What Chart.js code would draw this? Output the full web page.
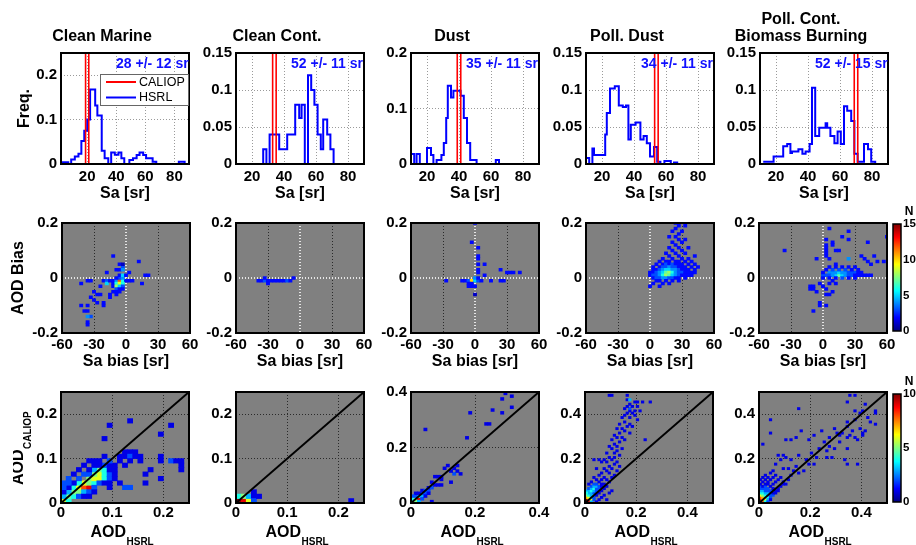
<!DOCTYPE html>
<html><head><meta charset="utf-8">
<script src="https://cdn.jsdelivr.net/npm/chart.js@4.4.1/dist/chart.umd.min.js"></script>
<style>
html,body{margin:0;padding:0;background:#fff;overflow:hidden;width:916px;height:545px;}
#root{position:relative;width:916px;height:545px;overflow:hidden;}
canvas{position:absolute;}
</style></head><body><div id="root"></div>
<script>
// ---------------- DATA ----------------
const panelTitles = [['Clean Marine'], ['Clean Cont.'], ['Dust'], ['Poll. Dust'], ['Poll. Cont.', 'Biomass Burning']];
const hsrlSaLabels = ['28 +/- 12 sr', '52 +/- 11 sr', '35 +/- 11 sr', '34 +/- 11 sr', '52 +/- 15 sr'];
const caliopSa = [20, 34, 40, 54, 70];
const saRanges = [[2, 90], [10, 90], [10, 90], [10, 90], [10, 90]];
const saTicks = [20, 40, 60, 80];
const freqMax = [0.25, 0.15, 0.2, 0.15, 0.15];
const freqTicks = [[0, 0.1, 0.2], [0, 0.05, 0.1, 0.15], [0, 0.1, 0.2], [0, 0.05, 0.1, 0.15], [0, 0.05, 0.1, 0.15]];

// HSRL lidar-ratio histograms: bin left edges (sr) and frequency
const histMarineSa = [2, 7, 9, 11.5, 14, 16, 18, 20, 22, 25.5, 27, 30, 32, 34.5, 36.5, 39, 41.5, 43.5, 45.5, 49, 51.5, 54, 56, 58.5, 60.5, 65, 67.5, 83, 87, 90];
const histMarineFreq = [0.004, 0, 0.01, 0.017, 0.023, 0.052, 0.075, 0.1, 0.168, 0.132, 0.109, 0.03, 0.013, 0, 0.026, 0.021, 0.026, 0.013, 0, 0.009, 0.013, 0.02, 0.026, 0.02, 0.013, 0.005, 0, 0.005, 0, 0];
const histCleanContSa = [25, 27, 29, 31, 37, 42, 47, 49.5, 51, 53, 55, 57, 59, 61, 63, 64.5, 67, 69, 71];
const histCleanContFreq = [0, 0.02, 0, 0.04, 0.02, 0.04, 0.08, 0.062, 0.08, 0, 0.12, 0.1, 0.08, 0.04, 0.02, 0.06, 0.04, 0.02, 0];
const histDustSa = [10, 12, 13.5, 15.5, 20, 22.5, 24, 26, 29, 30.5, 32, 33, 35, 36.5, 41, 43, 45, 47, 51, 63, 65];
const histDustFreq = [0.018, 0, 0.018, 0, 0.029, 0.016, 0, 0.007, 0.016, 0.038, 0.083, 0.141, 0.12, 0.132, 0.123, 0.083, 0.038, 0.007, 0, 0.007, 0];
const histPollDustSa = [10, 12, 14, 15, 22, 23, 25, 28, 30.5, 33, 35, 36.5, 38, 41, 44, 46, 48, 50, 52.5, 54.5, 56.5, 59, 61, 63, 65, 67];
const histPollDustFreq = [0.008, 0, 0.021, 0.012, 0.04, 0.069, 0.102, 0.105, 0.079, 0.077, 0.079, 0.033, 0.053, 0.056, 0.033, 0.038, 0.028, 0.01, 0.023, 0.003, 0, 0.004, 0.004, 0, 0.002, 0];
const histPollContSa = [12, 18.5, 24.5, 27, 29, 30, 34, 36.5, 38.5, 41, 42.5, 44.5, 47, 51, 52, 54, 56.5, 58.5, 60.5, 62.5, 64.5, 67, 69, 71, 75, 77.5, 79.5, 82];
const histPollContFreq = [0.003, 0.01, 0.024, 0.027, 0.015, 0.017, 0.02, 0.014, 0.017, 0.027, 0.103, 0.038, 0.049, 0.055, 0.049, 0.038, 0.028, 0.044, 0.027, 0.078, 0.072, 0.058, 0.014, 0.003, 0.027, 0.02, 0.003, 0];

// Bias 2-D histograms: [Sa bias bin centre (sr), AOD bias bin centre, count]
const saBiasTicks = [-60, -30, 0, 30, 60];
const aodBiasTicks = [-0.2, 0, 0.2];
const biasCountTicks = [0, 5, 10, 15];
const biasMarine = [[-12,0.08,2],[-6,0.05,2],[-9,0.03,2],[-6,0.03,2],[-18,0.02,2],[-3,0.04,3],[-3,0.03,4],[-3,0.05,1],[3,0.02,2],[12,0.06,2],[18,0.01,2],[21,0.01,2],
 [-36,-0.01,2],[-33,-0.01,2],[-42,-0.02,2],[-21,-0.01,2],[-18,-0.01,3],[-18,-0.02,5],[-15,-0.01,2],[-12,-0.01,2],[-9,-0.01,4],[-6,-0.01,12],[-3,-0.01,6],[0,-0.01,2],[-6,0,3],[-3,0,4],[-9,0,2],[-6,0.01,2],[-3,0.01,5],[0,0.01,2],[3,-0.01,2],[6,-0.01,2],
 [-12,-0.02,2],[-9,-0.02,6],[-6,-0.02,9],[-3,-0.02,6],[-12,-0.03,2],[-9,-0.03,8],[-6,-0.03,5],[-3,-0.03,3],[-9,-0.04,3],[-6,-0.04,2],[-3,-0.04,2],[-12,-0.05,2],[-9,-0.05,2],[-6,-0.05,2],[-15,-0.06,2],[-9,-0.06,2],[15,-0.02,2],
 [-24,-0.03,2],[-30,-0.05,2],[-24,-0.06,2],[-27,-0.06,2],[-15,-0.07,2],[-21,-0.09,2],[-21,-0.1,2],[-33,-0.07,2],[-42,-0.1,2],[-36,-0.1,2],[-36,-0.12,2],[-39,-0.12,2],[-33,-0.14,3],[-36,-0.14,4],[-36,-0.16,2],[-36,-0.17,2],[-30,-0.08,2],[-27,-0.09,2]];
const biasCleanCont = [[-39,-0.01,2],[-36,-0.01,2],[-33,-0.01,3],[-30,-0.01,2],[-27,-0.01,2],[-24,-0.01,2],[-21,-0.01,2],[-18,-0.01,2],[-15,-0.01,2],[-12,-0.01,3],[-9,-0.01,2],[-6,0,2],[-33,0,2],[-30,-0.02,2]];
const biasDust = [[-3,0.13,2],[3,0.11,2],[3,0.08,2],[3,0.07,2],[3,0.05,2],[3,0.03,2],[3,0.02,2],[9,0.05,2],[9,0.01,2],[0,0.2,2],[24,0.03,2],[30,0.02,2],[33,0.02,2],[36,0.02,2],[42,0.02,2],[-27,-0.01,2],[-12,-0.01,2],[-9,-0.01,2],[-6,-0.01,3],[-3,-0.01,10],[0,-0.01,5],[0,0,4],[3,-0.01,3],[6,-0.01,2],[15,-0.01,2],[24,-0.01,2],[27,-0.01,2],[-6,-0.02,2],[-3,-0.02,2],[-6,-0.03,2],[-3,-0.03,2],[0,-0.03,2],[0,-0.06,1],[3,0,2]];
const biasPollDust = [
 [9,0.06,2],[15,0.06,2],[18,0.06,2],[24,0.06,2],[27,0.06,2],[33,0.06,2],[39,0.06,2],
 [6,0.05,2],[12,0.05,2],[15,0.05,3],[18,0.05,2],[21,0.05,3],[24,0.05,2],[27,0.05,2],[30,0.05,2],[36,0.05,2],[42,0.05,2],
 [3,0.04,2],[9,0.04,2],[12,0.04,3],[15,0.04,3],[18,0.04,4],[21,0.04,3],[24,0.04,3],[27,0.04,2],[30,0.04,2],[33,0.04,2],[39,0.04,2],[45,0.04,2],
 [3,0.03,2],[6,0.03,2],[9,0.03,3],[12,0.03,4],[15,0.03,5],[18,0.03,5],[21,0.03,4],[24,0.03,4],[27,0.03,3],[30,0.03,2],[33,0.03,2],[36,0.03,2],[42,0.03,2],
 [0,0.02,2],[3,0.02,2],[6,0.02,3],[9,0.02,4],[12,0.02,5],[15,0.02,7],[18,0.02,8],[21,0.02,6],[24,0.02,4],[27,0.02,3],[30,0.02,3],[33,0.02,2],[36,0.02,2],[39,0.02,2],[42,0.02,2],
 [0,0.01,2],[3,0.01,3],[6,0.01,3],[9,0.01,4],[12,0.01,6],[15,0.01,8],[18,0.01,7],[21,0.01,5],[24,0.01,4],[27,0.01,3],[30,0.01,2],[33,0.01,2],[36,0.01,2],[39,0.01,2],
 [3,0,2],[6,0,3],[9,0,3],[12,0,4],[15,0,4],[18,0,3],[21,0,3],[24,0,2],[27,0,2],[33,0,2],
 [6,-0.01,2],[9,-0.01,2],[15,-0.01,2],[21,-0.01,2],[27,-0.01,2],[3,-0.02,2],[12,-0.02,2],[18,-0.02,2],[0,-0.03,2],[9,-0.03,2],
 [12,0.07,2],[21,0.07,2],[30,0.07,2],[36,0.07,2],[18,0.08,2],[27,0.08,2],[42,0.08,2],[15,0.09,2],[24,0.09,2],[33,0.09,2],[21,0.1,2],[30,0.1,2],[18,0.11,2],[27,0.11,2],[36,0.11,2],[24,0.12,2],[21,0.13,2],[30,0.13,2],[27,0.14,2],[33,0.14,2],[18,0.15,2],[24,0.15,2],[27,0.16,2],[21,0.17,2],[30,0.17,2],[24,0.18,2],[27,0.19,2],[33,0.19,2],[24,0.2,2]];
const biasPollCont = [[-36,0.1,2],[6,0.18,2],[24,0.17,2],[18,0.15,2],[24,0.14,2],[42,0.13,2],[9,0.13,2],[9,0.12,2],[3,0.14,2],[3,0.12,2],[3,0.11,2],[3,0.1,2],[3,0.09,2],[3,0.08,2],[12,0.1,2],[15,0.1,2],[-6,0.07,2],[6,0.07,2],[12,0.05,2],[24,0.07,4],[36,0.08,2],[39,0.07,2],[42,0.06,2],[45,0.05,2],[48,0.08,2],[51,0.06,2],[57,0.06,2],[60,0.15,2],
 [0,0.01,3],[3,0.01,3],[6,0.02,4],[9,0.02,4],[12,0.01,5],[15,0.01,7],[18,0.01,5],[21,0.02,4],[24,0.02,3],[27,0.02,3],[30,0.02,3],[33,0.02,2],[36,0.02,2],[39,0.01,2],[42,0.01,2],[6,0.01,3],[9,0.01,4],[12,0.02,4],[15,0.02,5],[18,0.02,4],[21,0.01,4],[24,0.01,3],[27,0.01,3],[30,0.01,2],[33,0.01,2],[36,0.01,2],[0,0.02,2],[3,0.03,2],[9,0.03,3],[15,0.03,3],[21,0.03,3],[27,0.03,2],[33,0.03,2],[12,0.04,2],[18,0.04,2],[24,0.04,2],[30,0.04,2],[6,0.04,2],[0,0,2],[6,0,2],[12,0,2],[18,0,3],[24,0,2],[30,0,2],[45,0.01,2],
 [-12,-0.03,2],[-9,-0.03,2],[-12,-0.04,2],[-9,-0.04,2],[-6,-0.05,2],[3,-0.04,2],[6,-0.02,2],[-3,-0.09,2],[-3,-0.1,2],[-9,-0.12,2],[3,-0.1,2],[9,-0.05,2],[0,-0.03,2],[6,-0.06,2],[-3,-0.02,2],[12,-0.02,2],[9,-0.01,2],[3,-0.06,2]];

// AOD scatter 2-D histograms: [AOD_HSRL bin lower edge, AOD_CALIOP bin lower edge, count]
const aodMax = [0.25, 0.25, 0.4, 0.5, 0.5];
const aodTicks = [[0, 0.1, 0.2], [0, 0.1, 0.2], [0, 0.2, 0.4], [0, 0.2, 0.4], [0, 0.2, 0.4]];
const aodCountTicks = [0, 5, 10];
const aodMarine = [[0,0,6],[0.01,0,4],[0.01,0.01,5],[0,0.01,3],[0.02,0.01,4],[0.02,0.02,5],[0.01,0.02,3],[0.03,0.02,5],[0.02,0.03,4],[0.03,0.03,6],[0.04,0.03,8],[0.05,0.03,9],[0.04,0.04,6],[0.03,0.04,4],[0.04,0.02,3],[0.05,0.02,2],[0.05,0.04,5],[0.06,0.04,4],[0.05,0.05,5],[0.06,0.05,6],[0.07,0.05,6],[0.07,0.06,6],[0.06,0.06,5],[0.08,0.06,4],[0.07,0.07,5],[0.08,0.07,4],[0.08,0.05,4],[0.06,0.07,3],[0.05,0.06,2],[0.04,0.06,2],[0.03,0.05,2],[0.02,0.04,1],[0.01,0.03,1],[0.02,0.06,1],[0.01,0.05,2],[0.01,0.04,2],[0,0.02,1],[0.03,0.01,2],[0.04,0.01,1],[0.06,0.03,2],[0.07,0.04,2],[0.08,0.04,1],[0.09,0.05,2],[0.09,0.06,2],[0.09,0.07,1],[0.08,0.08,2],[0.07,0.08,1],[0.06,0.08,1],[0.05,0.07,1],[0.09,0.03,1],[0.09,0.04,1],[0.1,0.06,1],[0.1,0.05,1],[0.1,0.07,1],[0.09,0.08,1],[0.1,0.08,1],[0.03,0.07,1],[0.04,0.08,1],[0.05,0.09,1],[0.06,0.09,1],[0.07,0.09,1],[0.08,0.1,1],[0.09,0.09,2],[0.11,0.1,1],[0.12,0.1,1],[0.12,0.11,1],[0.13,0.11,1],[0.14,0.11,1],[0.11,0.09,1],[0.13,0.1,2],[0.14,0.1,1],[0.15,0.1,1],[0.15,0.09,1],[0.13,0.09,1],[0.12,0.08,1],[0.16,0.06,1],[0.16,0.04,1],[0.12,0.03,2],[0.13,0.03,2],[0.17,0.07,1],[0.19,0.1,1],[0.19,0.09,1],[0.19,0.05,1],[0.19,0.15,1],[0.21,0.17,1],[0.08,0.14,1],[0.09,0.17,1],[0.13,0.18,1],[0.21,0.09,2],[0.22,0.09,1],[0.23,0.09,1],[0.23,0.08,1],[0.23,0.07,1],[0.11,0.04,1],[0.05,0.01,1],[0.06,0.02,1],[0,0.04,2],[0,0.03,2]];
const aodCleanCont = [[0,0,10],[0.01,0,9],[0.02,0,6],[0,0.01,4],[0.01,0.01,5],[0.02,0.01,3],[0.03,0.01,1],[0.03,0,2],[0.22,0,1],[0.04,0.01,1],[0.03,0.02,1]];
const aodDust = [[0,0,4],[0.01,0,5],[0,0.01,4],[0.01,0.01,5],[0.02,0.01,9],[0.02,0.02,4],[0.03,0.02,3],[0.01,0.02,2],[0.03,0.03,2],[0.04,0.03,2],[0.03,0.04,1],[0.04,0.04,2],[0.05,0.04,2],[0.02,0,3],[0.03,0.01,2],[0.04,0.02,1],[0.05,0.05,1],[0.06,0.05,2],[0.07,0.06,1],[0.08,0.06,1],[0.09,0.06,1],[0.06,0.07,1],[0.07,0.09,1],[0.09,0.09,1],[0.06,0,1],[0.05,0.03,1],[0.12,0.07,1],[0.13,0.1,2],[0.15,0.1,1],[0.14,0.13,1],[0.13,0.12,1],[0.1,0.12,1],[0.11,0.13,1],[0.12,0.11,1],[0.17,0.23,1],[0.04,0.26,1],[0.18,0.32,1],[0.23,0.28,1],[0.24,0.28,1],[0.25,0.33,1],[0.28,0.32,1],[0.28,0.37,1],[0.29,0.39,1],[0.31,0.38,1],[0.31,0.34,1],[0.08,0.09,1],[0.09,0.08,1],[0.14,0.11,1],[0.02,0.03,1],[0.01,0.03,1],[0,0.02,2]];
const aodPollDust = [[0,0,10],[0.01,0,9],[0,0.01,10],[0.01,0.01,8],[0.02,0.01,6],[0,0.02,7],[0.01,0.02,6],[0.02,0.02,4],[0,0.03,5],[0.01,0.03,4],[0.02,0.03,3],[0.03,0.03,4],[0.01,0.04,3],[0.02,0.04,3],[0.03,0.04,2],[0,0.05,3],[0.01,0.05,3],[0.02,0.05,4],[0.03,0.05,3],[0.04,0.05,2],[0.01,0.06,2],[0.02,0.06,3],[0.03,0.06,4],[0.04,0.06,2],[0.05,0.06,2],[0.02,0.07,2],[0.03,0.07,3],[0.04,0.07,3],[0.05,0.07,2],[0.03,0.08,2],[0.04,0.08,2],[0.06,0.08,1],[0,0.04,4],[0.04,0.04,2],[0.05,0.04,1],[0.03,0.02,2],[0.04,0.03,1],[0.02,0,3],[0.03,0.01,2],[0.05,0.01,1],[0.06,0.02,1],[0.07,0.03,1],[0.09,0.04,1],[0.1,0.05,1],[0.08,0.01,1],[0.04,0,1],[0.07,0.08,1],[0.01,0.08,1],[0.06,0.07,1],[0.08,0.07,1],[0.07,0.06,1],[0.06,0.05,1],[0.02,0.09,1],[0.05,0.09,1],[0.09,0.09,1],[0.04,0.1,1],[0.06,0.1,1],[0.08,0.1,1],[0.03,0.11,1],[0.07,0.11,1],[0.1,0.11,1],[0.05,0.12,1],[0.11,0.12,1],[0.06,0.13,1],[0.09,0.13,1],[0.08,0.14,1],[0.12,0.14,1],[0.04,0.15,1],[0.07,0.15,1],[0.1,0.15,1],[0.09,0.16,1],[0.13,0.16,1],[0.11,0.17,1],[0.06,0.18,1],[0.08,0.18,1],[0.12,0.18,1],[0.03,0.19,1],[0.05,0.19,1],[0.07,0.19,1],[0.1,0.19,1],[0.09,0.2,1],[0.11,0.2,1],[0.13,0.21,1],[0.08,0.22,1],[0.11,0.22,1],[0.12,0.23,1],[0.1,0.24,1],[0.14,0.24,1],[0.09,0.25,1],[0.12,0.25,1],[0.11,0.26,1],[0.13,0.27,1],[0.1,0.28,1],[0.15,0.28,1],[0.23,0.28,1],[0.12,0.29,1],[0.14,0.29,1],[0.11,0.3,1],[0.13,0.31,1],[0.17,0.31,1],[0.15,0.32,1],[0.12,0.33,1],[0.14,0.33,1],[0.16,0.34,1],[0.18,0.34,1],[0.13,0.35,1],[0.17,0.35,1],[0.15,0.36,1],[0.2,0.37,1],[0.14,0.38,1],[0.17,0.38,1],[0.15,0.39,1],[0.19,0.39,1],[0.16,0.4,1],[0.18,0.4,1],[0.17,0.41,1],[0.19,0.41,1],[0.21,0.41,1],[0.15,0.42,1],[0.17,0.42,2],[0.16,0.43,1],[0.18,0.43,1],[0.2,0.43,1],[0.17,0.44,1],[0.16,0.46,1],[0.17,0.46,3],[0.19,0.45,1],[0.2,0.45,1],[0.22,0.45,1],[0.25,0.45,1],[0.16,0.48,1],[0.09,0.48,1],[0.1,0.48,1]];
const aodPollCont = [[0,0,10],[0.01,0,8],[0,0.01,9],[0.01,0.01,7],[0.02,0.01,6],[0,0.02,8],[0.01,0.02,7],[0.02,0.02,5],[0.03,0.02,4],[0,0.03,6],[0.01,0.03,5],[0.02,0.03,4],[0.03,0.03,3],[0,0.04,4],[0.01,0.04,4],[0.02,0.04,3],[0.03,0.04,3],[0.04,0.04,2],[0,0.05,3],[0.01,0.05,3],[0.02,0.05,2],[0.03,0.05,2],[0.04,0.05,2],[0,0.06,2],[0.01,0.06,2],[0.02,0.06,2],[0.03,0.06,2],[0.05,0.06,1],[0,0.07,2],[0.01,0.07,1],[0.02,0.07,2],[0.04,0.07,1],[0,0.08,1],[0.02,0.08,1],[0.03,0.08,1],[0.05,0.08,1],[0.01,0.09,1],[0.03,0.09,1],[0.06,0.09,1],[0,0.1,1],[0.02,0.1,1],[0.04,0.1,1],[0.07,0.1,1],[0.01,0.11,1],[0.03,0.11,1],[0.05,0.11,1],[0.02,0.12,1],[0.04,0.13,1],[0.06,0.12,1],[0.08,0.11,1],[0.02,0,4],[0.03,0.01,3],[0.04,0.02,2],[0.05,0.03,2],[0.04,0.03,2],[0.05,0.04,1],[0.06,0.05,1],[0.07,0.06,1],[0.08,0.07,1],[0.09,0.08,1],[0.06,0.04,1],[0.07,0.05,1],[0.03,0,2],[0.04,0.01,1],[0.09,0.09,1],[0.1,0.08,1],[0.11,0.1,1],
 [0.08,0.19,1],[0.07,0.21,1],[0.09,0.21,1],[0.12,0.19,1],[0.15,0.21,1],[0.15,0.13,1],[0.18,0.19,1],[0.19,0.17,1],[0.21,0.17,1],[0.22,0.2,1],[0.26,0.2,1],[0.28,0.2,1],[0.26,0.23,1],[0.27,0.25,1],[0.29,0.24,1],[0.33,0.19,1],[0.34,0.17,1],[0.38,0.17,1],[0.34,0.24,1],[0.12,0.28,1],[0.14,0.29,1],[0.16,0.32,1],[0.19,0.28,1],[0.21,0.3,1],[0.24,0.32,1],[0.3,0.31,1],[0.31,0.3,1],[0.32,0.31,1],[0.34,0.29,1],[0.35,0.3,1],[0.37,0.29,1],[0.38,0.28,1],[0.4,0.3,1],[0.4,0.31,1],[0.41,0.32,1],[0.45,0.35,1],[0.34,0.36,1],[0.34,0.34,1],[0.37,0.37,1],[0.37,0.41,1],[0.39,0.4,1],[0.4,0.41,1],[0.45,0.4,1],[0.45,0.41,1],[0.41,0.44,1],[0.34,0.45,1],[0.35,0.48,1],[0.37,0.48,1],[0.15,0.42,1],[0.04,0.37,1],[0.04,0.31,1],[0.01,0.26,1],[0.1,0.28,1],[0.1,0.2,1],[0.11,0.15,1],[0.13,0.14,1],[0.09,0.15,1],[0.06,0.17,1],[0.05,0.14,1],[0.12,0.12,1],[0.14,0.16,1],[0.17,0.14,1],[0.2,0.22,1],[0.23,0.24,1],[0.25,0.27,1],[0.27,0.29,1],[0.29,0.33,1],[0.31,0.27,1],[0.36,0.32,1],[0.39,0.33,1],[0.42,0.38,1],[0.43,0.36,1]];

// ---------------- RENDERING ----------------
const FONTF = "'Liberation Sans', Arial, Helvetica, sans-serif";
Chart.defaults.font.family = FONTF;
Chart.defaults.font.weight = 'bold';
Chart.defaults.color = '#000';
const root = document.getElementById('root');

const histSa = [histMarineSa, histCleanContSa, histDustSa, histPollDustSa, histPollContSa];
const histFreq = [histMarineFreq, histCleanContFreq, histDustFreq, histPollDustFreq, histPollContFreq];
const biasSets = [biasMarine, biasCleanCont, biasDust, biasPollDust, biasPollCont];
const aodSets = [aodMarine, aodCleanCont, aodDust, aodPollDust, aodPollCont];

const colX = [[61, 236, 411, 586, 760], [62, 236, 411, 586, 759], [61, 236, 411, 585, 759]];
const rowY = [53, 223, 392];
const PW = 128, PH = [111, 110, 111];

function jet(t) {
  t = Math.max(0, Math.min(1, t));
  const f = v => Math.round(255 * Math.max(0, Math.min(1, v)));
  return `rgb(${f(1.5 - Math.abs(4 * t - 3))},${f(1.5 - Math.abs(4 * t - 2))},${f(1.5 - Math.abs(4 * t - 1))})`;
}

function place(x, y, w, h, L, T, R, B) {
  const c = document.createElement('canvas');
  c.width = L + w + R; c.height = T + h + B;
  c.style.left = (x - L) + 'px'; c.style.top = (y - T) + 'px';
  c.style.width = c.width + 'px'; c.style.height = c.height + 'px';
  root.appendChild(c);
  return c;
}

function frameP(bg, lw) {
  return {
    id: 'frame',
    beforeDraw(chart) {
      if (!bg) return;
      const a = chart.chartArea, c = chart.ctx;
      c.save(); c.fillStyle = bg; c.fillRect(a.left, a.top, a.width, a.height); c.restore();
    },
    afterDatasetsDraw(chart) {
      const a = chart.chartArea, c = chart.ctx;
      c.save(); c.strokeStyle = '#000'; c.lineWidth = lw || 2; c.strokeRect(a.left, a.top, a.width, a.height); c.restore();
    }
  };
}

function textP(items) {
  return {
    id: 'texts',
    afterDraw(chart) {
      const a = chart.chartArea, c = chart.ctx;
      for (const it of items) {
        c.save();
        if (it.clip) { c.beginPath(); c.rect(a.left, a.top, a.width, a.height); c.clip(); }
        const bx = it.ax === 'r' ? a.right : it.ax === 'c' ? (a.left + a.right) / 2 : a.left;
        const by = it.ay === 'b' ? a.bottom : it.ay === 'c' ? (a.top + a.bottom) / 2 : a.top;
        c.translate(bx + (it.dx || 0), by + (it.dy || 0));
        if (it.rot) c.rotate(it.rot);
        if (it.legend) {
          c.fillStyle = '#fff'; c.fillRect(0, 0, it.w, it.h);
          c.strokeStyle = '#666'; c.lineWidth = 1; c.strokeRect(0.5, 0.5, it.w - 1, it.h - 1);
          it.legend.forEach((e, k) => {
            const yy = 8 + k * 15.5;
            c.strokeStyle = e.color; c.lineWidth = 2;
            c.beginPath(); c.moveTo(6, yy); c.lineTo(36, yy); c.stroke();
            c.fillStyle = '#000'; c.font = `normal 12.5px ${FONTF}`;
            c.textAlign = 'left'; c.textBaseline = 'middle';
            c.fillText(e.label, 39, yy + 0.5);
          });
        } else {
          c.font = `${it.weight || 'bold'} ${it.size}px ${FONTF}`;
          c.fillStyle = it.color || '#000';
          c.textAlign = it.align || 'left';
          c.textBaseline = it.base || 'alphabetic';
          c.fillText(it.text, 0, 0);
        }
        c.restore();
      }
    }
  };
}

function axis(pos, min, max, ticks, size, o) {
  o = o || {};
  const vertical = pos === 'left' || pos === 'right';
  return {
    type: 'linear', position: pos, min, max, offset: false,
    afterBuildTicks: s => { s.ticks = ticks.map(v => ({ value: v })); },
    afterFit: s => { if (vertical) s.width = size; else s.height = size; },
    ticks: { font: { size: o.tickSize || 15, weight: 'bold' }, padding: o.tickPad != null ? o.tickPad : 4, callback: v => String(v), autoSkip: false, maxRotation: 0, minRotation: 0, color: '#000' },
    grid: { display: o.grid !== false, color: o.gridColor || '#9a9a9a', lineWidth: o.gridWidth || 1, drawTicks: false, offset: false },
    border: { display: false, dash: [1, 2] },
    title: o.title ? { display: true, text: o.title, font: { size: 16, weight: 'bold' }, color: '#000', padding: o.titlePad || { top: 0, bottom: 0 } } : { display: false }
  };
}

const baseOpts = { responsive: false, maintainAspectRatio: false, animation: false, events: [] };

// ----- Row 1: Sa histograms -----
for (let i = 0; i < 5; i++) {
  const L = 46, T = 45, R = 14, B = 42;
  const x0 = colX[0][i], y0 = rowY[0], h = PH[0];
  const cv = place(x0, y0, PW, h, L, T, R, B);
  const lines = panelTitles[i];
  const titleH = lines.length * 16 * 1.1 + 7.4;
  const ymax = freqMax[i];
  const hist = histSa[i].map((x, k) => ({ x, y: histFreq[i][k] }));
  const c = caliopSa[i];
  const items = [{ text: hsrlSaLabels[i], ax: 'l', ay: 't', dx: 55, dy: 15, size: 14, color: '#1010ff', clip: true }];
  if (i === 0) items.push({ legend: [{ label: 'CALIOP', color: '#ff0000' }, { label: 'HSRL', color: '#0000ff' }], ax: 'l', ay: 't', dx: 39, dy: 21, w: 89, h: 32 });
  new Chart(cv, {
    type: 'scatter',
    data: { datasets: [
      { label: 'CALIOP', data: [{ x: c - 1.1, y: 0 }, { x: c - 1.1, y: ymax }], showLine: true, borderColor: '#ff0000', borderWidth: 1.6, pointRadius: 0 },
      { label: 'CALIOP ', data: [{ x: c + 1.1, y: 0 }, { x: c + 1.1, y: ymax }], showLine: true, borderColor: '#ff0000', borderWidth: 1.6, pointRadius: 0 },
      { label: 'HSRL', data: hist, showLine: true, stepped: true, borderColor: '#0000ff', borderWidth: 2, pointRadius: 0 }
    ] },
    options: Object.assign({}, baseOpts, {
      layout: { padding: { left: 0, right: R, top: T - titleH, bottom: 0 } },
      plugins: {
        legend: { display: false }, tooltip: { enabled: false },
        title: { display: true, text: lines, color: '#000', font: { size: 16, weight: 'bold', lineHeight: 1.1 }, padding: { top: 0, bottom: 7.4 } }
      },
      scales: {
        x: axis('bottom', saRanges[i][0], saRanges[i][1], saTicks, B, { title: 'Sa [sr]', titlePad: { top: 0, bottom: 2.4 }, tickPad: 4 }),
        y: axis('left', 0, ymax, freqTicks[i], L, { title: i === 0 ? 'Freq.' : null, tickPad: 4 })
      }
    }),
    plugins: [frameP(null, 2), textP(items)]
  });
}

function cellsDataset(cells, binX, binY, nmax, cellW, centred) {
  return {
    type: 'bar',
    data: cells.map(c => centred
      ? { x: c[0], y: [c[1] - binY / 2, c[1] + binY / 2], n: c[2] }
      : { x: c[0] + binX / 2, y: [c[1], c[1] + binY], n: c[2] }),
    backgroundColor: ctx => jet((ctx.raw ? ctx.raw.n : 1) / nmax),
    barThickness: cellW, borderWidth: 0, inflateAmount: 0.35
  };
}

// ----- Row 2: bias 2-D histograms -----
for (let i = 0; i < 5; i++) {
  const L = 53, T = 20, R = 14, B = 42;
  const x0 = colX[1][i], y0 = rowY[1], h = PH[1];
  const cv = place(x0, y0, PW, h, L, T, R, B);
  const binX = 3, binY = 0.01;
  const cellW = PW * binX / 120;
  const gridCol = ctx => (ctx.tick && ctx.tick.value === 0) ? '#e6e6e6' : '#2a2a2a';
  const gridW = ctx => (ctx.tick && ctx.tick.value === 0) ? 2 : 1;
  new Chart(cv, {
    type: 'bar',
    data: { datasets: [cellsDataset(biasSets[i], binX, binY, 15, cellW, true)] },
    options: Object.assign({}, baseOpts, {
      layout: { padding: { left: 0, right: R, top: T, bottom: 0 } },
      plugins: { legend: { display: false }, tooltip: { enabled: false } },
      scales: {
        x: axis('bottom', -60, 60, saBiasTicks, B, { title: 'Sa bias [sr]', titlePad: { top: 0, bottom: 3.4 }, tickPad: 3, gridColor: gridCol, gridWidth: gridW }),
        y: axis('left', -0.2, 0.2, aodBiasTicks, L, { title: i === 0 ? 'AOD Bias' : null, tickPad: 4, gridColor: gridCol, gridWidth: gridW })
      }
    }),
    plugins: [frameP('#808080', 2)]
  });
}

// ----- Row 3: AOD comparison 2-D histograms -----
for (let i = 0; i < 5; i++) {
  const L = 48, T = 20, R = 14, B = 42;
  const x0 = colX[2][i], y0 = rowY[2], h = PH[2];
  const cv = place(x0, y0, PW, h, L, T, R, B);
  const m = aodMax[i];
  const binX = 0.01, binY = 0.01;
  const cellW = PW * binX / m;
  const items = [
    { text: 'AOD', ax: 'c', ay: 'b', dx: 1, dy: 34, size: 16, align: 'right' },
    { text: 'HSRL', ax: 'c', ay: 'b', dx: 1.5, dy: 41.5, size: 10, align: 'left' }
  ];
  if (i === 0) {
    items.push({ text: 'AOD', ax: 'l', ay: 'c', dx: -38, dy: 2, rot: -Math.PI / 2, size: 16, align: 'right' });
    items.push({ text: 'CALIOP', ax: 'l', ay: 'c', dx: -30.5, dy: 1.5, rot: -Math.PI / 2, size: 10, align: 'left' });
  }
  new Chart(cv, {
    type: 'bar',
    data: { datasets: [
      { type: 'line', data: [{ x: 0, y: 0 }, { x: m, y: m }], borderColor: '#000', borderWidth: 2, pointRadius: 0 },
      cellsDataset(aodSets[i], binX, binY, 10, cellW, false)
    ] },
    options: Object.assign({}, baseOpts, {
      layout: { padding: { left: 0, right: R, top: T, bottom: 0 } },
      plugins: { legend: { display: false }, tooltip: { enabled: false } },
      scales: {
        x: axis('bottom', 0, m, aodTicks[i], B, { tickPad: 1, gridColor: '#2a2a2a' }),
        y: axis('left', 0, m, aodTicks[i], L, { tickPad: 4, gridColor: '#2a2a2a' })
      }
    }),
    plugins: [frameP('#808080', 2), textP(items)]
  });
}

// ----- Colour bars -----
function colorbar(x, y, h, nmax, ticks) {
  const L = 24, T = 30, R = 24, B = 10, w = 8;
  const cv = place(x, y, w, h, L, T, R, B);
  new Chart(cv, {
    type: 'bar',
    data: { labels: ['N'], datasets: [{
      data: [[0, nmax]], barPercentage: 1, categoryPercentage: 1, borderWidth: 0,
      backgroundColor: ctx => {
        const a = ctx.chart.chartArea;
        if (!a) return jet(0.5);
        const g = ctx.chart.ctx.createLinearGradient(0, a.bottom, 0, a.top);
        for (let k = 0; k <= 32; k++) g.addColorStop(k / 32, jet(k / 32));
        return g;
      }
    }] },
    options: Object.assign({}, baseOpts, {
      layout: { padding: { left: L, right: 0, top: 10, bottom: B } },
      plugins: { legend: { display: false }, tooltip: { enabled: false },
        title: { display: true, text: 'N', color: '#000', font: { size: 12, weight: 'bold' }, padding: { top: 0, bottom: 5.6 } } },
      scales: {
        x: { display: false, offset: true },
        y: axis('right', 0, nmax, ticks, R, { tickPad: 2, grid: false, tickSize: 11.5 })
      }
    }),
    plugins: [frameP(null, 1.5)]
  });
}
colorbar(893, 224, 107, 15, biasCountTicks);
colorbar(893, 394, 108, 10, aodCountTicks);
</script></body></html>
